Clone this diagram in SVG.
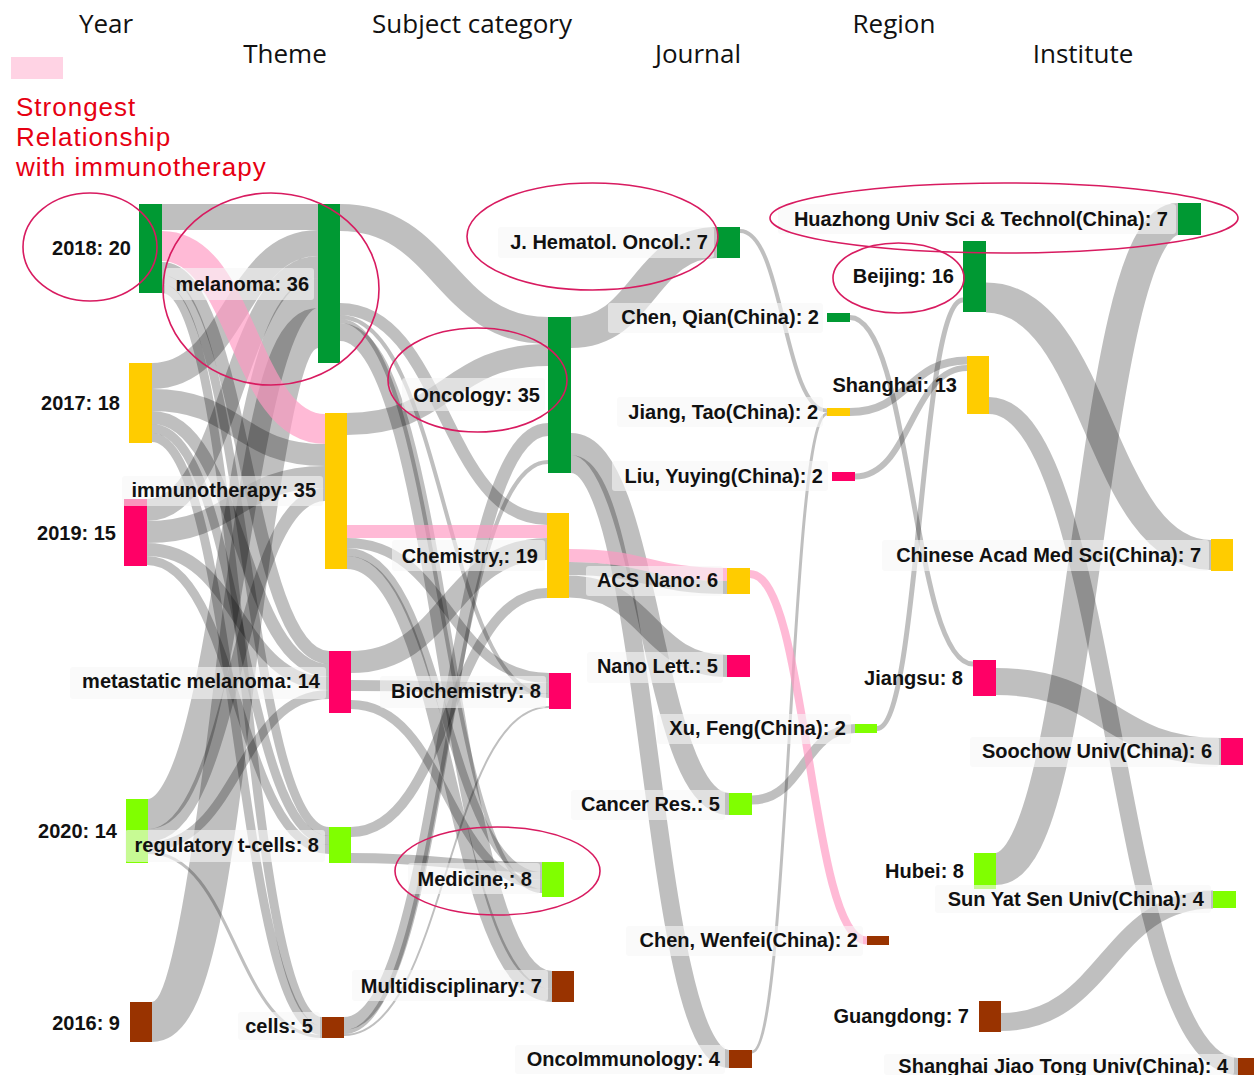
<svg xmlns="http://www.w3.org/2000/svg" width="1254" height="1075" viewBox="0 0 1254 1075">
<style>
.hdr{font-family:"Open Sans","Liberation Sans",Arial,sans-serif;font-size:26px;fill:#111;text-anchor:middle}
.red{font-family:"Liberation Sans",Arial,sans-serif;font-size:26px;letter-spacing:1px;fill:#e60012}
.lbl{font-family:"Liberation Sans",Arial,sans-serif;font-size:20px;font-weight:bold;fill:#111;text-anchor:end}
.box{fill:#f6f6f6;fill-opacity:0.6}
.lk{fill:none;stroke:#000;stroke-opacity:0.25}
.pk{fill:none;stroke:#ff99c2;stroke-opacity:0.68}
.ring{fill:none;stroke:#d81b60;stroke-width:1.6}
.g1{fill:#009933}.y1{fill:#ffcc00}.r1{fill:#ff0066}.l1{fill:#80ff00}.b1{fill:#993300}
</style>
<rect width="1254" height="1075" fill="#fff"/>
<g id="headers">
<text class="hdr" x="106" y="33">Year</text>
<text class="hdr" x="285" y="63">Theme</text>
<text class="hdr" x="472" y="33">Subject category</text>
<text class="hdr" x="698" y="63">Journal</text>
<text class="hdr" x="894" y="33">Region</text>
<text class="hdr" x="1083" y="63">Institute</text>
</g>
<g id="legend">
<rect x="11" y="57" width="52" height="22" fill="#ffd3e4"/>
<text class="red" x="16" y="116">Strongest</text>
<text class="red" x="16" y="146">Relationship</text>
<text class="red" x="16" y="176">with immunotherapy</text>
</g>
<g id="connectors">
<!-- Year -> Theme -->
<path class="lk" stroke-width="26" d="M162 217 C240 217 240 217 318 217"/>
<path class="lk" stroke-width="13" d="M162 268.5 C245.5 268.5 245.5 657.5 329 657.5"/>
<path class="lk" stroke-width="9" d="M162 279.5 C245.5 279.5 245.5 831.5 329 831.5"/>
<path class="lk" stroke-width="9" d="M162 288.5 C242 288.5 242 1021.5 322 1021.5"/>
<path class="lk" stroke-width="26" d="M152 376 C235 376 235 243 318 243"/>
<path class="lk" stroke-width="22" d="M152 400 C238.5 400 238.5 455 325 455"/>
<path class="lk" stroke-width="13" d="M152 417.5 C240.5 417.5 240.5 670.5 329 670.5"/>
<path class="lk" stroke-width="9" d="M152 428.5 C240.5 428.5 240.5 840.5 329 840.5"/>
<path class="lk" stroke-width="9" d="M152 437.5 C237 437.5 237 1030.5 322 1030.5"/>
<path class="lk" stroke-width="22" d="M147 510 C232.5 510 232.5 267 318 267"/>
<path class="lk" stroke-width="22" d="M147 532 C236 532 236 477 325 477"/>
<path class="lk" stroke-width="13" d="M147 549.5 C238 549.5 238 683.5 329 683.5"/>
<path class="lk" stroke-width="9" d="M147 560.5 C238 560.5 238 849.5 329 849.5"/>
<path class="lk" stroke-width="30" d="M148 814 C233 814 233 293 318 293"/>
<path class="lk" stroke-width="13" d="M148 835.5 C236.5 835.5 236.5 494.5 325 494.5"/>
<path class="lk" stroke-width="9" d="M148 846.5 C238.5 846.5 238.5 694.5 329 694.5"/>
<path class="lk" stroke-width="3" d="M148 852.5 C235 852.5 235 1036.5 322 1036.5"/>
<path class="lk" stroke-width="40" d="M152 1022 C235 1022 235 328 318 328"/>
<!-- Theme -> Subject -->
<path class="lk" stroke-width="27" d="M340 217.5 C444 217.5 444 330.5 548 330.5"/>
<path class="lk" stroke-width="22" d="M347 424 C447.5 424 447.5 355 548 355"/>
<path class="lk" stroke-width="12" d="M340 309 C443.5 309 443.5 519 547 519"/>
<path class="lk" stroke-width="4" d="M340 317 C444.5 317 444.5 696 549 696"/>
<path class="lk" stroke-width="4" d="M340 321 C441 321 441 891 542 891"/>
<path class="lk" stroke-width="18" d="M340 332 C446 332 446 980 552 980"/>
<path class="lk" stroke-width="10" d="M347 543 C448 543 448 678 549 678"/>
<path class="lk" stroke-width="8" d="M347 552 C444.5 552 444.5 876 542 876"/>
<path class="lk" stroke-width="13" d="M347 562.5 C449.5 562.5 449.5 995.5 552 995.5"/>
<path class="lk" stroke-width="22" d="M351 662 C449 662 449 549 547 549"/>
<path class="lk" stroke-width="11" d="M351 685.5 C450 685.5 450 688.5 549 688.5"/>
<path class="lk" stroke-width="9" d="M351 704.5 C446.5 704.5 446.5 884.5 542 884.5"/>
<path class="lk" stroke-width="10" d="M351 832 C449 832 449 593 547 593"/>
<path class="lk" stroke-width="10" d="M351 858 C446.5 858 446.5 867 542 867"/>
<path class="lk" stroke-width="13" d="M344 1023.5 C446 1023.5 446 429.5 548 429.5"/>
<path class="lk" stroke-width="4" d="M344 1032 C446 1032 446 462 548 462"/>
<path class="lk" stroke-width="2" d="M344 1035 C446.5 1035 446.5 707 549 707"/>
<!-- Subject -> Journal -->
<path class="lk" stroke-width="31" d="M571 332.5 C644 332.5 644 242.5 717 242.5"/>
<path class="lk" stroke-width="22" d="M571 444 C650 444 650 804 729 804"/>
<path class="lk" stroke-width="18" d="M571 464 C650 464 650 1059 729 1059"/>
<path class="lk" stroke-width="13" d="M569 568.5 C648 568.5 648 587.5 727 587.5"/>
<path class="lk" stroke-width="22" d="M569 586.5 C648 586.5 648 666 727 666"/>
<!-- Journal -> Author -->
<path class="lk" stroke-width="4" d="M740 231 C783.5 231 783.5 410.5 827 410.5"/>
<path class="lk" stroke-width="3" d="M752 1052 C789.5 1052 789.5 414 827 414"/>
<path class="lk" stroke-width="9" d="M752 800 C803.5 800 803.5 728.5 855 728.5"/>
<!-- Author -> Region -->
<path class="lk" stroke-width="5" d="M850 317.5 C911.5 317.5 911.5 664 973 664"/>
<path class="lk" stroke-width="8" d="M850 412 C908.5 412 908.5 360.5 967 360.5"/>
<path class="lk" stroke-width="6" d="M855 476.5 C911 476.5 911 368 967 368"/>
<path class="lk" stroke-width="5" d="M877 728.5 C920 728.5 920 300 963 300"/>
<!-- Region -> Institute -->
<path class="lk" stroke-width="30" d="M986 297.5 C1098.5 297.5 1098.5 555 1211 555"/>
<path class="lk" stroke-width="17" d="M989 405.5 C1113.5 405.5 1113.5 1066.5 1238 1066.5"/>
<path class="lk" stroke-width="32" d="M996 869 C1087 869 1087 219 1178 219"/>
<path class="lk" stroke-width="27" d="M996 681.5 C1108.5 681.5 1108.5 751.5 1221 751.5"/>
<path class="lk" stroke-width="18" d="M1001 1022 C1107 1022 1107 899.5 1213 899.5"/>
<!-- strongest relationship (pink) -->
<path class="pk" stroke-width="30" d="M162 246 C243.5 246 243.5 429 325 429"/>
<path class="pk" stroke-width="13" d="M347 531.5 C447 531.5 447 531.5 547 531.5"/>
<path class="pk" stroke-width="13" d="M569 555.5 C648 555.5 648 574.5 727 574.5"/>
<path class="pk" stroke-width="8" d="M750 574 C808.5 574 808.5 940.5 867 940.5"/>
</g>
<g id="node-2018"><rect class="g1" x="139" y="204" width="23" height="89"/><text class="lbl" x="131" y="255">2018: 20</text></g>
<g id="node-2017"><rect class="y1" x="129" y="363" width="23" height="80"/><text class="lbl" x="120" y="410">2017: 18</text></g>
<g id="node-2019"><rect class="r1" x="124" y="499" width="23" height="67"/><text class="lbl" x="116" y="540">2019: 15</text></g>
<g id="node-2020"><rect class="l1" x="126" y="799" width="22" height="64"/><text class="lbl" x="117" y="838">2020: 14</text></g>
<g id="node-2016"><rect class="b1" x="130" y="1002" width="22" height="40"/><text class="lbl" x="120" y="1030">2016: 9</text></g>
<g id="node-melanoma"><rect class="box" x="165" y="268" width="149" height="32" rx="3"/><rect class="g1" x="318" y="204" width="22" height="159"/><text class="lbl" x="309" y="291">melanoma: 36</text></g>
<g id="node-immunotherapy"><rect class="box" x="122" y="476" width="201" height="30" rx="3"/><rect class="y1" x="325" y="413" width="22" height="156"/><text class="lbl" x="316" y="497">immunotherapy: 35</text></g>
<g id="node-metastatic-melanoma"><rect class="box" x="70" y="667" width="256" height="32" rx="3"/><rect class="r1" x="329" y="651" width="22" height="62"/><text class="lbl" x="320" y="688">metastatic melanoma: 14</text></g>
<g id="node-regulatory-t-cells"><rect class="box" x="125" y="830" width="200" height="32" rx="3"/><rect class="l1" x="329" y="827" width="22" height="36"/><text class="lbl" x="319" y="852">regulatory t-cells: 8</text></g>
<g id="node-cells"><rect class="box" x="238" y="1012" width="82" height="28" rx="3"/><rect class="b1" x="322" y="1017" width="22" height="21"/><text class="lbl" x="313" y="1033">cells: 5</text></g>
<g id="node-oncology"><rect class="box" x="402" y="378" width="143" height="33" rx="3"/><rect class="g1" x="548" y="317" width="23" height="156"/><text class="lbl" x="540" y="402">Oncology: 35</text></g>
<g id="node-chemistry"><rect class="box" x="392" y="540" width="153" height="31" rx="3"/><rect class="y1" x="547" y="513" width="22" height="85"/><text class="lbl" x="538" y="563">Chemistry,: 19</text></g>
<g id="node-biochemistry"><rect class="box" x="380" y="676" width="166" height="32" rx="3"/><rect class="r1" x="549" y="673" width="22" height="36"/><text class="lbl" x="541" y="698">Biochemistry: 8</text></g>
<g id="node-medicine"><rect class="box" x="408" y="863" width="132" height="31" rx="3"/><rect class="l1" x="542" y="862" width="22" height="35"/><text class="lbl" x="532" y="886">Medicine,: 8</text></g>
<g id="node-multidisciplinary"><rect class="box" x="352" y="970" width="196" height="31" rx="3"/><rect class="b1" x="552" y="971" width="22" height="31"/><text class="lbl" x="542" y="993">Multidisciplinary: 7</text></g>
<g id="node-j-hematol-oncol"><rect class="box" x="498" y="227" width="216" height="31" rx="3"/><rect class="g1" x="717" y="227" width="23" height="31"/><text class="lbl" x="708" y="249">J. Hematol. Oncol.: 7</text></g>
<g id="node-chen-qian"><rect class="box" x="608" y="303" width="215" height="30" rx="3"/><rect class="g1" x="827" y="313" width="23" height="9"/><text class="lbl" x="819" y="324">Chen, Qian(China): 2</text></g>
<g id="node-jiang-tao"><rect class="box" x="617" y="397" width="206" height="30" rx="3"/><rect class="y1" x="827" y="408" width="23" height="8"/><text class="lbl" x="818" y="419">Jiang, Tao(China): 2</text></g>
<g id="node-liu-yuying"><rect class="box" x="612" y="461" width="216" height="30" rx="3"/><rect class="r1" x="832" y="472" width="23" height="9"/><text class="lbl" x="823" y="483">Liu, Yuying(China): 2</text></g>
<g id="node-acs-nano"><rect class="box" x="586" y="566" width="137" height="30" rx="3"/><rect class="y1" x="727" y="568" width="23" height="26"/><text class="lbl" x="718" y="587">ACS Nano: 6</text></g>
<g id="node-nano-lett"><rect class="box" x="587" y="652" width="136" height="31" rx="3"/><rect class="r1" x="727" y="655" width="23" height="22"/><text class="lbl" x="718" y="673">Nano Lett.: 5</text></g>
<g id="node-xu-feng"><rect class="box" x="657" y="714" width="194" height="30" rx="3"/><rect class="l1" x="855" y="724" width="22" height="9"/><text class="lbl" x="846" y="735">Xu, Feng(China): 2</text></g>
<g id="node-cancer-res"><rect class="box" x="571" y="790" width="154" height="30" rx="3"/><rect class="l1" x="729" y="793" width="23" height="22"/><text class="lbl" x="720" y="811">Cancer Res.: 5</text></g>
<g id="node-chen-wenfei"><rect class="box" x="626" y="926" width="237" height="30" rx="3"/><rect class="b1" x="867" y="936" width="22" height="9"/><text class="lbl" x="858" y="947">Chen, Wenfei(China): 2</text></g>
<g id="node-oncoimmunology"><rect class="box" x="515" y="1045" width="210" height="29" rx="3"/><rect class="b1" x="729" y="1050" width="23" height="18"/><text class="lbl" x="720" y="1066">OncoImmunology: 4</text></g>
<g id="node-huazhong"><rect class="box" x="778" y="204" width="398" height="30" rx="3"/><rect class="g1" x="1178" y="203" width="23" height="32"/><text class="lbl" x="1168" y="226">Huazhong Univ Sci &amp; Technol(China): 7</text></g>
<g id="node-beijing"><rect class="g1" x="963" y="241" width="23" height="71"/><text class="lbl" x="954" y="283">Beijing: 16</text></g>
<g id="node-shanghai"><rect class="y1" x="967" y="356" width="22" height="58"/><text class="lbl" x="957" y="392">Shanghai: 13</text></g>
<g id="node-jiangsu"><rect class="r1" x="973" y="660" width="23" height="36"/><text class="lbl" x="963" y="685">Jiangsu: 8</text></g>
<g id="node-hubei"><rect class="l1" x="974" y="853" width="22" height="36"/><text class="lbl" x="964" y="878">Hubei: 8</text></g>
<g id="node-guangdong"><rect class="b1" x="979" y="1001" width="22" height="31"/><text class="lbl" x="969" y="1023">Guangdong: 7</text></g>
<g id="node-chinese-acad"><rect class="box" x="882" y="540" width="327" height="31" rx="3"/><rect class="y1" x="1211" y="539" width="22" height="32"/><text class="lbl" x="1201" y="562">Chinese Acad Med Sci(China): 7</text></g>
<g id="node-soochow"><rect class="box" x="970" y="737" width="249" height="30" rx="3"/><rect class="r1" x="1221" y="738" width="22" height="27"/><text class="lbl" x="1212" y="758">Soochow Univ(China): 6</text></g>
<g id="node-sun-yat-sen"><rect class="box" x="935" y="885" width="276" height="28" rx="3"/><rect class="l1" x="1213" y="891" width="23" height="17"/><text class="lbl" x="1204" y="906">Sun Yat Sen Univ(China): 4</text></g>
<g id="node-shanghai-jiao-tong"><rect class="box" x="884" y="1054" width="350" height="21" rx="3"/><rect class="b1" x="1238" y="1058" width="22" height="17"/><text class="lbl" x="1228" y="1073">Shanghai Jiao Tong Univ(China): 4</text></g>
<g id="highlights">
<ellipse class="ring" cx="90" cy="247" rx="67" ry="54"/>
<ellipse class="ring" cx="271" cy="289" rx="108" ry="96"/>
<ellipse class="ring" cx="477.5" cy="380" rx="89.5" ry="52"/>
<ellipse class="ring" cx="592.5" cy="236.5" rx="125.5" ry="53.5"/>
<ellipse class="ring" cx="1004" cy="218" rx="234" ry="35"/>
<ellipse class="ring" cx="898.5" cy="278" rx="65.5" ry="35"/>
<ellipse class="ring" cx="497.5" cy="871" rx="102.5" ry="44"/>
</g>
</svg>
